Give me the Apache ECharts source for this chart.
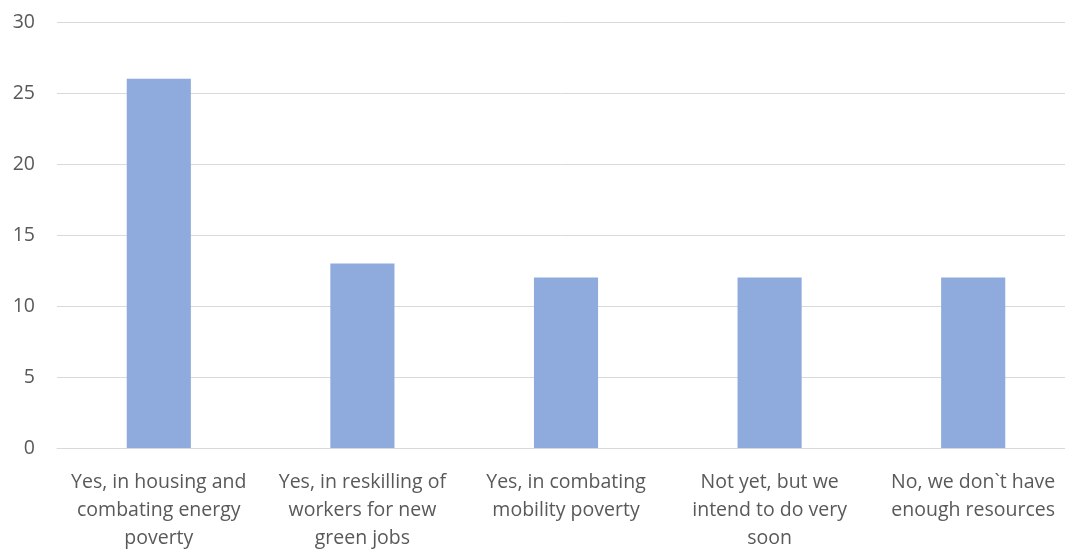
<!DOCTYPE html>
<html>
<head>
<meta charset="utf-8">
<script src="https://cdn.jsdelivr.net/npm/echarts@6/dist/echarts.min.js"></script>
<style>
  html, body { margin: 0; padding: 0; background: #fff; }
  #chart { width: 1065px; height: 549px; }
</style>
</head>
<body>
<div id="chart"></div>
<script>
// Survey answers (wrapped onto the lines shown under each bar)
const categories = [
  'Yes, in housing and\ncombating energy\npoverty',
  'Yes, in reskilling of\nworkers for new\ngreen jobs',
  'Yes, in combating\nmobility poverty',
  'Not yet, but we\nintend to do very\nsoon',
  'No, we don`t have\nenough resources'
];
const counts = [26, 13, 12, 12, 12];
const yTicks = { min: 0, max: 30, interval: 5 };

const chart = echarts.init(document.getElementById('chart'), null, { renderer: 'canvas' });
const font = '"Open Sans", "Noto Sans", sans-serif';

chart.setOption({
  animation: false,
  grid: {
    left: 57, right: -10, top: 22, bottom: 101,
    containLabel: false,
    outerBoundsMode: 'none'
  },
  xAxis: {
    type: 'category',
    data: categories,
    axisLine: { show: true, lineStyle: { color: '#d9d9d9', width: 1 } },
    axisTick: { show: false },
    axisLabel: {
      interval: 0,
      color: '#595959',
      fontFamily: font,
      fontSize: 19.5,
      lineHeight: 28,
      margin: 20
    }
  },
  yAxis: {
    type: 'value',
    min: yTicks.min,
    max: yTicks.max,
    interval: yTicks.interval,
    axisLine: { show: false },
    axisTick: { show: false },
    splitLine: { lineStyle: { color: '#d9d9d9', width: 1 } },
    axisLabel: {
      color: '#595959',
      fontFamily: font,
      fontSize: 19.5,
      margin: 22
    }
  },
  series: [{
    type: 'bar',
    data: counts,
    barWidth: '31.5%',
    itemStyle: { color: '#8faadc' }
  }]
});
</script>
</body>
</html>
